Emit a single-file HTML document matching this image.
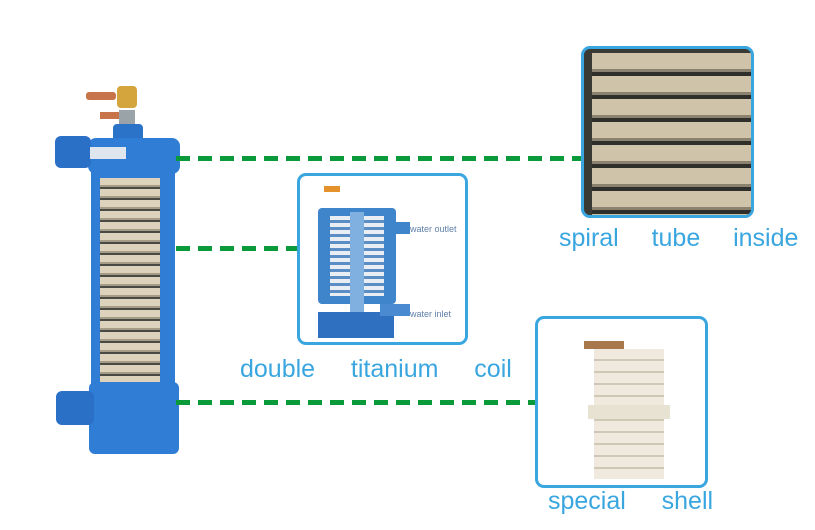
<!DOCTYPE html><html><head><style>
body{margin:0;width:815px;height:530px;background:#fff;position:relative;overflow:hidden;font-family:"Liberation Sans",sans-serif}
.a{position:absolute}
.dash{position:absolute;height:5px;background:repeating-linear-gradient(90deg,#0a9a3a 0 14px,transparent 14px 22px)}
.box{position:absolute;border:3px solid #3aa6e0;border-radius:9px;box-sizing:border-box;background:#fff}
.lbl{position:absolute;color:#3aa6e0;font-size:25px;white-space:pre}
.coil{background:repeating-linear-gradient(180deg,#ddd3bd 0 7px,#a59c88 7px 9px,#4a4a44 9px 11px)}
</style></head><body>
<!-- heater -->
<div class="a" style="left:86px;top:92px;width:30px;height:8px;background:#c7744a;border-radius:3px"></div>
<div class="a" style="left:117px;top:86px;width:20px;height:22px;background:#d4a53c;border-radius:4px"></div>
<div class="a" style="left:100px;top:112px;width:22px;height:7px;background:#c7744a"></div>
<div class="a" style="left:119px;top:110px;width:16px;height:20px;background:#9aa3a8"></div>
<div class="a" style="left:113px;top:124px;width:30px;height:20px;background:#2a73c8;border-radius:4px"></div>
<div class="a" style="left:88px;top:138px;width:92px;height:36px;background:#2f7dd4;border-radius:8px"></div>
<div class="a" style="left:55px;top:136px;width:36px;height:32px;background:#2a70c6;border-radius:6px"></div>
<div class="a" style="left:90px;top:147px;width:36px;height:12px;background:#dfe6ee"></div>
<div class="a" style="left:91px;top:170px;width:84px;height:230px;background:#2f7dd4"></div>
<div class="a coil" style="left:100px;top:178px;width:60px;height:212px"></div>
<div class="a" style="left:89px;top:382px;width:90px;height:72px;background:#2f7dd4;border-radius:6px"></div>
<div class="a" style="left:56px;top:391px;width:38px;height:34px;background:#2a70c6;border-radius:6px"></div>
<!-- dashes -->
<div class="dash" style="left:176px;top:156px;width:406px"></div>
<div class="dash" style="left:176px;top:246px;width:121px"></div>
<div class="dash" style="left:176px;top:400px;width:360px"></div>
<!-- box 2 -->
<div class="box" style="left:297px;top:173px;width:171px;height:172px">
 <div class="a" style="left:18px;top:32px;width:78px;height:96px;background:#3f85cc;border-radius:4px"></div>
 <div class="a" style="left:30px;top:40px;width:54px;height:80px;background:repeating-linear-gradient(180deg,#e8eef4 0 4px,#5a8ec4 4px 7px)"></div>
 <div class="a" style="left:50px;top:36px;width:14px;height:100px;background:#7fb0e0"></div>
 <div class="a" style="left:18px;top:136px;width:76px;height:26px;background:#2f70c0"></div>
 <div class="a" style="left:96px;top:46px;width:14px;height:12px;background:#3f85cc"></div>
 <div class="a" style="left:80px;top:128px;width:30px;height:12px;background:#4a8ad0"></div>
 <div class="a" style="left:24px;top:10px;width:16px;height:6px;background:#e5912c"></div>
 <div class="a" style="left:110px;top:48px;font-size:9px;color:#5e7fa8">water outlet</div>
 <div class="a" style="left:110px;top:133px;font-size:9px;color:#5e7fa8">water inlet</div>
</div>
<div class="lbl" style="left:240px;top:355px;word-spacing:5px">double   titanium   coil</div>
<!-- spiral -->
<div class="box" style="left:581px;top:46px;width:173px;height:172px;background:#3a3a34;overflow:hidden">
 <div class="a" style="left:8px;top:4px;width:160px;height:164px;background:repeating-linear-gradient(180deg,#cfc3a9 0 16px,#8a826f 16px 19px,#2e2e2a 19px 23px)"></div>
</div>
<div class="lbl" style="left:559px;top:224px;word-spacing:4px">spiral   tube   inside</div>
<!-- shell -->
<div class="box" style="left:535px;top:316px;width:173px;height:172px">
 <div class="a" style="left:46px;top:22px;width:40px;height:8px;background:#a8784a"></div>
 <div class="a" style="left:56px;top:30px;width:70px;height:130px;background:repeating-linear-gradient(180deg,#efeadd 0 10px,#cfc8b6 10px 12px)"></div>
 <div class="a" style="left:50px;top:86px;width:82px;height:14px;background:#e8e2d2"></div>
</div>
<div class="lbl" style="left:548px;top:487px;word-spacing:5px">special   shell</div>
</body></html>
